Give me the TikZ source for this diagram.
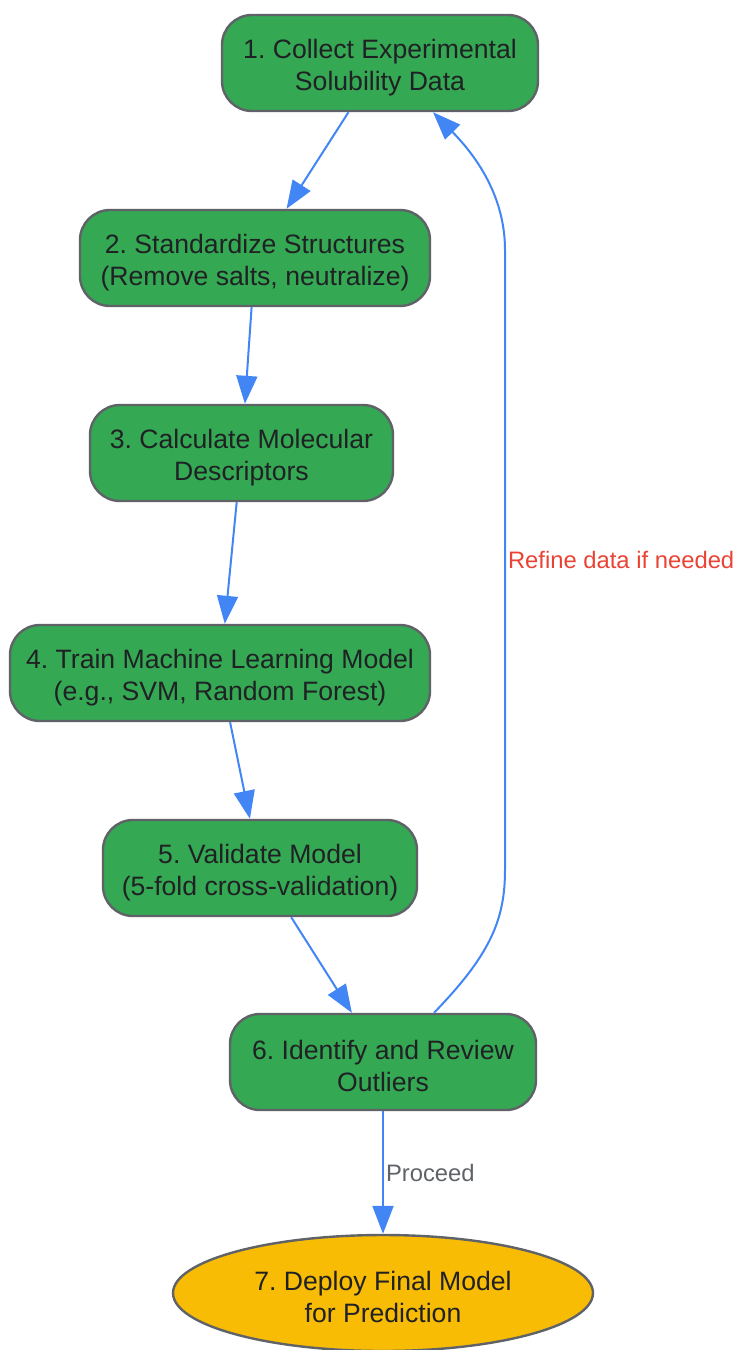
\documentclass[tikz,border=0pt]{standalone}
\usepackage{fontspec}
\setmainfont{Liberation Sans}
\frenchspacing
\usetikzlibrary{arrows.meta,shapes.geometric}
\definecolor{stepgreen}{HTML}{34A853}
\definecolor{deployyellow}{HTML}{F9BC05}
\definecolor{bordergray}{HTML}{5F6368}
\definecolor{textdark}{HTML}{202124}
\definecolor{flowblue}{HTML}{4285F4}
\definecolor{refinered}{HTML}{EA4335}
\tikzset{
  stepbox/.style={draw=bordergray, line width=1.2pt, fill=stepgreen, rounded corners=15pt,
    minimum height=48pt, inner sep=0pt, align=center, text=textdark, text height=30pt,
    font=\fontsize{13.3}{16}\selectfont},
  deploybox/.style={ellipse, draw=bordergray, line width=1.2pt, fill=deployyellow,
    minimum width=210pt, minimum height=58pt, inner sep=0pt, align=center, text=textdark,
    text height=30pt, font=\fontsize{13.3}{16}\selectfont},
  flow/.style={draw=flowblue, line width=1pt, -{Triangle[length=14pt,width=10.5pt]}},
  edgelabel/.style={inner sep=1pt, font=\fontsize{11.9}{14}\selectfont},
}
\begin{document}
\begin{tikzpicture}[x=0.5pt,y=-0.5pt]
\useasboundingbox (0,0) rectangle (738,1350);
\node[stepbox, minimum width=158pt] (n1) at (380,63) {1. Collect Experimental\\Solubility Data};
\node[stepbox, minimum width=175pt] (n2) at (255,258) {2. Standardize Structures\\(Remove salts, neutralize)};
\node[stepbox, minimum width=151.5pt] (n3) at (241.5,453) {3. Calculate Molecular\\Descriptors};
\node[stepbox, minimum width=210pt] (n4) at (220,673) {4. Train Machine Learning Model\\(e.g., SVM, Random Forest)};
\node[stepbox, minimum width=157pt] (n5) at (260,868) {5. Validate Model\\(5-fold cross-validation)};
\node[stepbox, minimum width=153pt] (n6) at (383,1062) {6. Identify and Review\\Outliers};
\node[deploybox] (n7) at (383,1293) {7. Deploy Final Model\\for Prediction};
\foreach \a/\b in {n1/n2,n2/n3,n3/n4,n4/n5,n5/n6} \draw[flow] (\a) -- (\b);
\draw[flow] (n6) -- node[right, edgelabel, text=bordergray] {Proceed} (n7);
\draw[flow] ([xshift=25.5pt]n6.north) .. controls (490,955) and (505,920) .. (505,870)
  -- node[right, edgelabel, text=refinered] {Refine data if needed} (505,250)
  .. controls (505,200) and (480,160) .. ([xshift=26.5pt]n1.south);
\end{tikzpicture}
\end{document}
